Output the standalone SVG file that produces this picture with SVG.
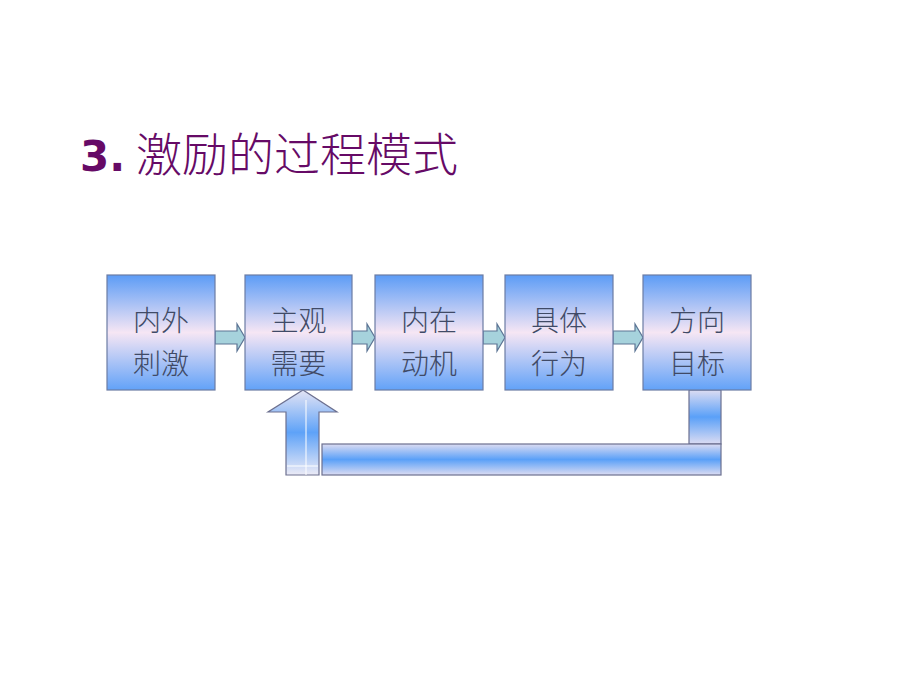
<svg xmlns="http://www.w3.org/2000/svg" width="920" height="690" viewBox="0 0 920 690">
  <defs>
    <linearGradient id="boxg" x1="0" y1="0" x2="0" y2="1">
      <stop offset="0" stop-color="#5c9cf6"/>
      <stop offset="0.5" stop-color="#f6e6f4"/>
      <stop offset="1" stop-color="#62a2f8"/>
    </linearGradient>
    <linearGradient id="barg" x1="0" y1="0" x2="0" y2="1">
      <stop offset="0" stop-color="#dcdcf2"/>
      <stop offset="0.5" stop-color="#5aa0f8"/>
      <stop offset="1" stop-color="#dcdcf2"/>
    </linearGradient>
    <linearGradient id="upg" x1="0" y1="0" x2="0" y2="1">
      <stop offset="0" stop-color="#e4e4f4"/>
      <stop offset="0.5" stop-color="#5ea2f8"/>
      <stop offset="1" stop-color="#ecebf6"/>
    </linearGradient>
    <style>
      .box { fill: url(#boxg); stroke: #6c7ca4; stroke-width: 1.2; }
      .lbl { font-family: "Noto Sans CJK SC", sans-serif; font-size: 28px; fill: #404a66; text-anchor: middle; font-weight: 300; }
      .arr { fill: #a6d2dc; stroke: #5c7494; stroke-width: 1.2; }
      .bar { fill: url(#barg); stroke: #6c7090; stroke-width: 1.2; }
      .up { fill: url(#upg); stroke: #6c7090; stroke-width: 1.2; }
    </style>
  </defs>
  <rect width="920" height="690" fill="#ffffff"/>
  <text x="80" y="171" font-family="'DejaVu Sans', sans-serif" font-weight="bold" font-size="42" fill="#660a66">3.</text>
  <text x="136" y="171" font-family="'Noto Sans CJK SC', sans-serif" font-weight="300" font-size="46" fill="#660a66">激励的过程模式</text>

  <g id="connectors">
    <polygon class="arr" points="215,331 237,331 237,324 245,337.5 237,351 237,344 215,344"/>
    <polygon class="arr" points="352,331 367,331 367,324 375,337.5 367,351 367,344 352,344"/>
    <polygon class="arr" points="483,331 497,331 497,324 505,337.5 497,351 497,344 483,344"/>
    <polygon class="arr" points="613,331 635,331 635,324 643,337.5 635,351 635,344 613,344"/>
    <rect class="bar" x="689" y="390" width="32" height="54"/>
    <rect class="bar" x="322" y="444" width="399" height="31"/>
    <polygon class="up" points="286,475 286,412 268,412 303,390 337,412 319,412 319,475"/>
    <line x1="306" y1="400" x2="306" y2="475" stroke="#ffffff" stroke-width="1"/>
    <line x1="287" y1="466" x2="318" y2="466" stroke="#ffffff" stroke-width="1"/>
  </g>

  <g id="n1">
    <rect class="box" x="107" y="275" width="108" height="115"/>
    <text class="lbl" x="161" y="331">内外</text>
    <text class="lbl" x="161" y="374">刺激</text>
  </g>
  <g id="n2">
    <rect class="box" x="245" y="275" width="107" height="115"/>
    <text class="lbl" x="298.5" y="331">主观</text>
    <text class="lbl" x="298.5" y="374">需要</text>
  </g>
  <g id="n3">
    <rect class="box" x="375" y="275" width="108" height="115"/>
    <text class="lbl" x="429" y="331">内在</text>
    <text class="lbl" x="429" y="374">动机</text>
  </g>
  <g id="n4">
    <rect class="box" x="505" y="275" width="108" height="115"/>
    <text class="lbl" x="559" y="331">具体</text>
    <text class="lbl" x="559" y="374">行为</text>
  </g>
  <g id="n5">
    <rect class="box" x="643" y="275" width="108" height="115"/>
    <text class="lbl" x="697" y="331">方向</text>
    <text class="lbl" x="697" y="374">目标</text>
  </g>
</svg>
